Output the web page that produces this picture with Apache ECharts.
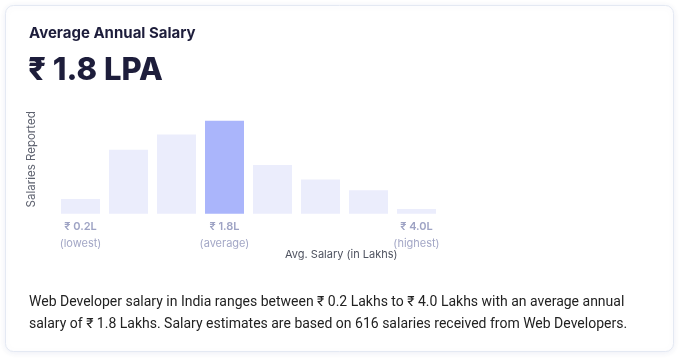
<!DOCTYPE html>
<html>
<head>
<meta charset="utf-8">
<script src="https://cdn.jsdelivr.net/npm/echarts@6/dist/echarts.min.js"></script>
<style>
html,body{margin:0;padding:0;background:#fff;}
#chart{width:680px;height:358px;}
</style>
</head>
<body>
<div id="chart"></div>
<script>
// Data
const bins = ['Bin 1','Bin 2','Bin 3','Bin 4','Bin 5','Bin 6','Bin 7','Bin 8'];
const salariesReported = [25, 109, 135, 158, 83, 58, 40, 8];
const tickLabels = ['₹ 0.2L', '', '', '₹ 1.8L', '', '', '', '₹ 4.0L'];
const tickCaptions = ['(lowest)', '', '', '(average)', '', '', '', '(highest)'];
const averageIndex = 3;
const headline = 'Average Annual Salary';
const averageText = '₹ 1.8 LPA';
const descriptionLines = [
  'Web Developer salary in India ranges between ₹ 0.2 Lakhs to ₹ 4.0 Lakhs with an average annual',
  'salary of ₹ 1.8 Lakhs. Salary estimates are based on 616 salaries received from Web Developers.'
];

const chart = echarts.init(document.getElementById('chart'));
const seriesData = salariesReported.map((v, i) => i === averageIndex
  ? { value: v, itemStyle: { color: '#aab5fb' } }
  : v);

chart.setOption({
  animation: false,
  backgroundColor: '#ffffff',
  textStyle: { fontFamily: 'Inter, Roboto, sans-serif' },
  graphic: [
    {
      type: 'rect', z: -10, silent: true,
      shape: { x: 5.5, y: 5.5, width: 668, height: 346, r: 8 },
      style: { fill: '#ffffff', stroke: '#e4e9f3', lineWidth: 1,
               shadowBlur: 6, shadowOffsetY: 1, shadowColor: 'rgba(40,60,140,0.08)' }
    },
    {
      type: 'text', left: 29, top: 26,
      style: { text: headline, fontSize: 15, fontWeight: 700, fill: '#1d1d3b',
               fontFamily: 'Inter, sans-serif' }
    },
    {
      type: 'text', left: 28, top: 55,
      style: { text: averageText, fontSize: 31, fontWeight: 800, fill: '#1d1d3b',
               fontFamily: 'Inter, sans-serif' }
    },
    {
      type: 'text', left: 285, top: 249,
      style: { text: 'Avg. Salary (in Lakhs)', fontSize: 11, fill: '#4f5360',
               fontFamily: 'Inter, sans-serif' }
    },
    {
      type: 'text', left: 29, top: 291,
      style: { text: descriptionLines.join('\n'), fontSize: 14, lineHeight: 22, fill: '#222222',
               fontFamily: 'Roboto, sans-serif' }
    }
  ],
  grid: { left: 56.5, right: 239.5, top: 105, bottom: 144.3 },
  xAxis: {
    type: 'category',
    data: bins,
    axisLine: { show: false },
    axisTick: { show: false },
    axisLabel: {
      interval: 0,
      margin: 5,
      formatter: (val, idx) => tickLabels[idx] ? '{v|' + tickLabels[idx] + '}\n{c|' + tickCaptions[idx] + '}' : '',
      rich: {
        v: { fontSize: 11, fontWeight: 600, color: '#9ea3c4', lineHeight: 16, fontFamily: 'Inter, sans-serif' },
        c: { fontSize: 11, color: '#a3a7c6', lineHeight: 17, fontFamily: 'Inter, sans-serif' }
      }
    }
  },
  yAxis: {
    type: 'value',
    min: 0, max: 185,
    name: 'Salaries Reported',
    nameLocation: 'middle',
    nameGap: 19,
    nameRotate: 90,
    nameTextStyle: { fontSize: 11.5, color: '#5f6370', fontFamily: 'Inter, sans-serif' },
    axisLine: { show: false },
    axisTick: { show: false },
    axisLabel: { show: false },
    splitLine: { show: false }
  },
  series: [{
    type: 'bar',
    data: seriesData,
    barWidth: 39,
    itemStyle: { color: '#ebedfc' },
    emphasis: { disabled: true }
  }]
});
</script>
</body>
</html>
